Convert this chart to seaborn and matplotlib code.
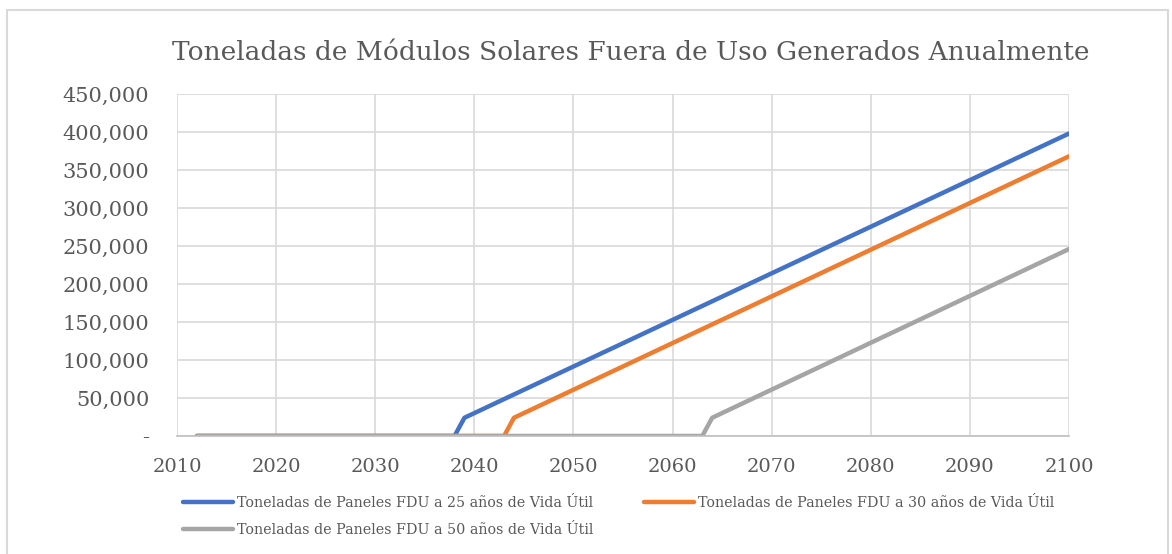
import matplotlib
matplotlib.use("Agg")
import matplotlib.pyplot as plt
import matplotlib.patches as mpatches
from matplotlib.ticker import FuncFormatter
import pandas as pd
import seaborn as sns

# Breakpoints of each series (year, tonnes); each series is straight between them
years_25 = [2012, 2038, 2039, 2100]
tons_25 = [0, 0, 24000, 398000]
years_30 = [2012, 2043, 2044, 2100]
tons_30 = [0, 0, 24000, 368000]
years_50 = [2012, 2063, 2064, 2100]
tons_50 = [0, 0, 24000, 246000]

series_names = [
    "Toneladas de Paneles FDU a 25 años de Vida Útil",
    "Toneladas de Paneles FDU a 30 años de Vida Útil",
    "Toneladas de Paneles FDU a 50 años de Vida Útil",
]
series_colors = ["#4472C4", "#ED7D31", "#A5A5A5"]

x_ticks = list(range(2010, 2101, 10))
y_ticks = list(range(0, 450001, 50000))

title = "Toneladas de Módulos Solares Fuera de Uso Generados Anualmente"

frames = []
for name, xs, ys in zip(series_names, [years_25, years_30, years_50], [tons_25, tons_30, tons_50]):
    frames.append(pd.DataFrame({"Año": xs, "Toneladas": ys, "Serie": name}))
df = pd.concat(frames, ignore_index=True)

sns.set_theme(style="white")
plt.rcParams["font.family"] = ["DejaVu Serif"]
text_color = "#595959"
grid_color = "#D9D9D9"

fig = plt.figure(figsize=(11.72, 5.54), dpi=100)
W, H = 1172, 554
ax = fig.add_axes([177 / W, 1 - 436 / H, (1069 - 177) / W, (436 - 94) / H])

# Chart-area frame
fig.patches.append(mpatches.Rectangle((7 / W, -0.05), (1168 - 7) / W, (1 - 10 / H) + 0.05,
                                      transform=fig.transFigure, fill=False,
                                      edgecolor="#D9D9D9", linewidth=1.5))

sns.lineplot(data=df, x="Año", y="Toneladas", hue="Serie", hue_order=series_names,
             palette=series_colors, linewidth=3.2, ax=ax, legend=False,
             solid_capstyle="round")

ax.set_xlim(2010, 2100)
ax.set_ylim(0, 450000)
ax.set_xticks(x_ticks)
ax.set_yticks(y_ticks)
ax.yaxis.set_major_formatter(FuncFormatter(lambda v, p: "-" if v == 0 else f"{int(v):,}"))
ax.grid(True, color=grid_color, linewidth=1.2)
ax.set_axisbelow(True)
for s in ["top", "right", "left"]:
    ax.spines[s].set_visible(False)
ax.spines["bottom"].set_color("#BFBFBF")
ax.spines["bottom"].set_linewidth(1.2)
ax.tick_params(axis="y", length=0, labelsize=15, colors=text_color, pad=20)
ax.tick_params(axis="x", length=0, labelsize=14, colors=text_color, pad=16)
ax.set_xlabel("")
ax.set_ylabel("")

fig.text(631 / W, 1 - 52 / H, title, ha="center", va="center", fontsize=19, color=text_color)

# Row-major legend order: blue, orange on the first row, gray on the second
handles = [plt.Line2D([], [], color=c, linewidth=3.2, solid_capstyle="round") for c in series_colors]
order = [0, 2, 1]
fig.legend([handles[i] for i in order], [series_names[i] for i in order],
           loc="upper left", bbox_to_anchor=(170 / W, 1 - 483 / H),
           ncol=2, frameon=False, fontsize=10.3, labelcolor=text_color, handlelength=3.5,
           handletextpad=0.3, columnspacing=3.5, labelspacing=0.95)

fig.savefig("out.png", dpi=100, facecolor="white")
